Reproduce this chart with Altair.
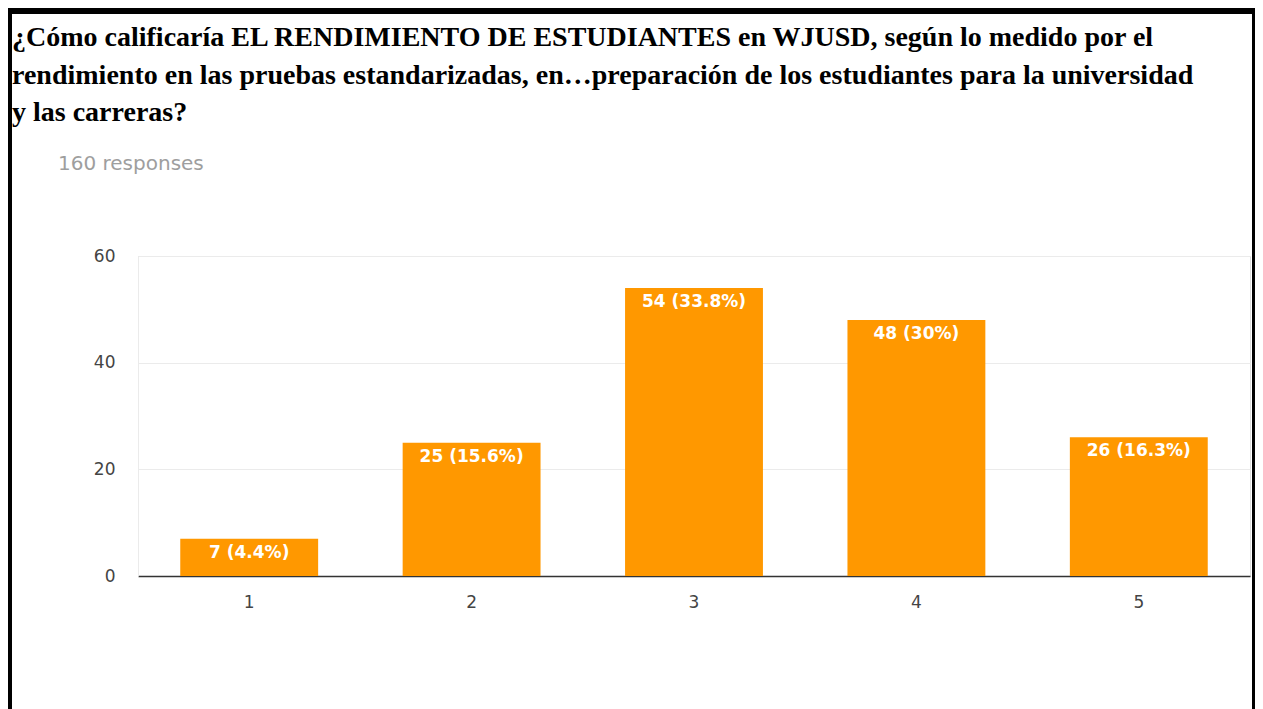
import altair as alt
import pandas as pd

categories = ["1", "2", "3", "4", "5"]
counts = [7, 25, 54, 48, 26]
bar_labels = ["7 (4.4%)", "25 (15.6%)", "54 (33.8%)", "48 (30%)", "26 (16.3%)"]
y_ticks = [0, 20, 40, 60]
title_lines = [
    "¿Cómo calificaría EL RENDIMIENTO DE ESTUDIANTES en WJUSD, según lo medido por el",
    "rendimiento en las pruebas estandarizadas, en…preparación de los estudiantes para la universidad",
    "y las carreras?",
]
responses_text = "160 responses"

df = pd.DataFrame({"cat": categories, "count": counts, "label": bar_labels})

PW, PH = 1112, 320
PAD_L, PAD_T, PAD_R, PAD_B = 130, 248, 5, 133
SANS = "DejaVu Sans"

base = alt.Chart(df)

x_enc = alt.X(
    "cat:N",
    sort=categories,
    scale=alt.Scale(paddingInner=0.38, paddingOuter=0.19),
    axis=alt.Axis(
        title=None, labelAngle=0, labelFontSize=17, labelColor="#444444",
        labelFont=SANS, ticks=False, domain=True,
        domainColor="#333333", domainWidth=1.5, labelPadding=18, grid=False,
    ),
)
y_enc = alt.Y(
    "count:Q",
    scale=alt.Scale(domain=[0, 60], nice=False),
    axis=alt.Axis(
        title=None, values=y_ticks, labelFontSize=17, labelColor="#444444",
        labelFont=SANS, ticks=False, domain=True,
        domainColor="#ebebeb", labelPadding=23, grid=True, gridColor="#ebebeb",
    ),
)

bars = base.mark_bar(color="#FF9800").encode(x=x_enc, y=y_enc)

texts = base.mark_text(
    color="white", fontSize=17, font=SANS, baseline="middle",
    dy=14, fontWeight="bold",
).encode(x=alt.X("cat:N", sort=categories), y="count:Q", text="label:N")

one = pd.DataFrame({"a": [0]})

title_mark = alt.Chart(pd.DataFrame({"t": [title_lines]})).mark_text(
    align="left", baseline="alphabetic", fontSize=28, font="Liberation Serif",
    fontWeight="bold", color="black", lineHeight=37.5,
).encode(x=alt.value(-126), y=alt.value(-210), text="t")

resp = alt.Chart(pd.DataFrame({"t": [responses_text]})).mark_text(
    align="left", baseline="middle", fontSize=20, font=SANS, color="#9e9e9e"
).encode(x=alt.value(-80), y=alt.value(-92), text="t:N")

border_left = alt.Chart(one).mark_rule(color="black", strokeWidth=4).encode(
    x=alt.value(-128), y=alt.value(-248), y2=alt.value(PH + PAD_B)
)
border_top = alt.Chart(one).mark_rule(color="black", strokeWidth=6).encode(
    y=alt.value(-245), x=alt.value(-130), x2=alt.value(PW + PAD_R)
)
border_right = alt.Chart(one).mark_rule(color="black", strokeWidth=3).encode(
    x=alt.value(PW + 3.5), y=alt.value(-248), y2=alt.value(PH + PAD_B)
)

chart = alt.layer(
    bars, texts, title_mark, resp, border_left, border_top, border_right
).properties(
    width=PW,
    height=PH,
    autosize=alt.AutoSizeParams(type="none"),
    padding={"left": PAD_L, "top": PAD_T, "right": PAD_R, "bottom": PAD_B},
).configure_view(stroke=None).configure(background="white")

chart.save("out.html", embed_options={"renderer": "svg", "actions": False})
